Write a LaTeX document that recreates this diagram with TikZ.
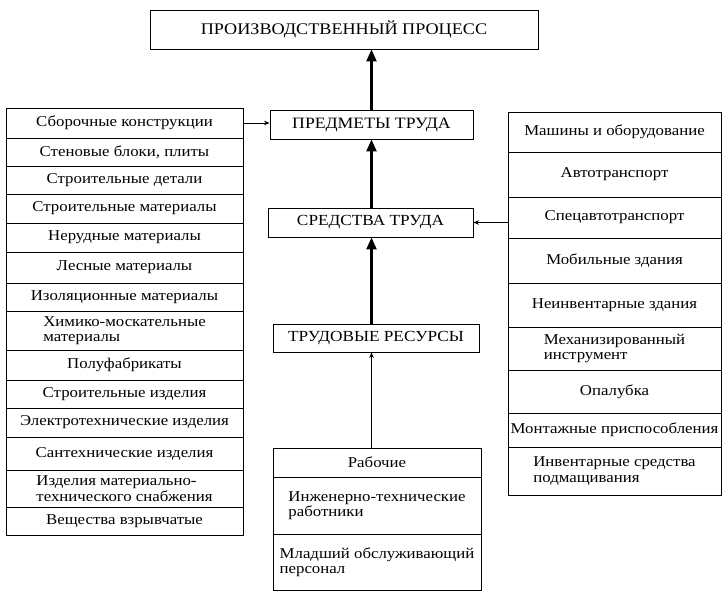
\documentclass[tikz,border=0pt]{standalone}
\usepackage{fontspec}
\setmainfont{Liberation Serif}[FakeStretch=1.12]
\usetikzlibrary{arrows.meta}
\newcommand\mkcell[6]{%
  \pgfmathsetmacro\cw{#4-#2}\pgfmathsetmacro\ch{#5-#3}%
  \pgfmathsetmacro\cx{(#2+#4)/2}\pgfmathsetmacro\cy{(#3+#5)/2}%
  \node[cell, minimum width=\cw pt, minimum height=\ch pt] (#1) at (\cx,\cy) {#6};}
\begin{document}
\begin{tikzpicture}[x=1pt,y=-1pt,
  cell/.style={draw=black, line width=0.9pt, inner sep=0pt, align=left, font=\fontsize{15}{15.5}\selectfont},
  mainarrow/.style={line width=2.3pt, -{Triangle[width=10pt,length=12pt]}},
  thinarrow/.style={line width=0.8pt, -{Stealth[width=4.5pt,length=5.5pt]}}]
\useasboundingbox (0,0) rectangle (727,600);
% central column
\mkcell{top}{150}{10}{538}{49}{\fontsize{16.2}{17}\selectfont ПРОИЗВОДСТВЕННЫЙ ПРОЦЕСС}
\mkcell{pred}{270}{110}{473}{139}{\fontsize{15.8}{16}\selectfont ПРЕДМЕТЫ ТРУДА}
\mkcell{sred}{268}{208}{473}{237}{\fontsize{15.4}{16}\selectfont СРЕДСТВА ТРУДА}
\mkcell{trud}{273}{324}{479}{352}{\fontsize{15.4}{16}\selectfont ТРУДОВЫЕ РЕСУРСЫ}
% bottom group
\mkcell{b1}{273}{448}{481}{477}{Рабочие}
\mkcell{b2}{273}{477}{481}{534}{Инженерно-технические\\работники}
\mkcell{b3}{273}{534}{481}{590}{Младший обслуживающий\\персонал}
% left column
\mkcell{l1}{6}{108}{243}{138}{Сборочные конструкции}
\mkcell{l2}{6}{138}{243}{166}{Стеновые блоки, плиты}
\mkcell{l3}{6}{166}{243}{194}{Строительные детали}
\mkcell{l4}{6}{194}{243}{223}{Строительные материалы}
\mkcell{l5}{6}{223}{243}{252}{Нерудные материалы}
\mkcell{l6}{6}{252}{243}{283}{Лесные материалы}
\mkcell{l7}{6}{283}{243}{311}{Изоляционные материалы}
\mkcell{l8}{6}{311}{243}{350}{Химико-москательные\\материалы}
\mkcell{l9}{6}{350}{243}{380}{Полуфабрикаты}
\mkcell{l10}{6}{380}{243}{408}{Строительные изделия}
\mkcell{l11}{6}{408}{243}{437}{Электротехнические изделия}
\mkcell{l12}{6}{437}{243}{470}{Сантехнические изделия}
\mkcell{l13}{6}{470}{243}{507}{Изделия материально-\\технического снабжения}
\mkcell{l14}{6}{507}{243}{535}{Вещества взрывчатые}
% right column
\mkcell{r1}{508}{112}{721}{152}{Машины и оборудование}
\mkcell{r2}{508}{152}{721}{197}{Автотранспорт}
\mkcell{r3}{508}{197}{721}{238}{Спецавтотранспорт}
\mkcell{r4}{508}{238}{721}{283}{Мобильные здания}
\mkcell{r5}{508}{283}{721}{327}{Неинвентарные здания}
\mkcell{r6}{508}{327}{721}{370}{Механизированный\\инструмент}
\mkcell{r7}{508}{370}{721}{413}{Опалубка}
\mkcell{r8}{508}{413}{721}{447}{Монтажные приспособления}
\mkcell{r9}{508}{447}{721}{495}{Инвентарные средства\\подмащивания}
% connectors
\draw[mainarrow] (pred.north) -- (pred.north |- top.south);
\draw[mainarrow] (sred.north -| pred.north) -- (pred.south);
\draw[mainarrow] (trud.north -| pred.north) -- (sred.south -| pred.north);
\draw[thinarrow] (b1.north -| pred.north) -- (trud.south -| pred.north);
\draw[thinarrow] (l1.east) -- (l1.east -| pred.west);
\draw[thinarrow] (sred.east -| r3.west) -- (sred.east);
\end{tikzpicture}
\end{document}
